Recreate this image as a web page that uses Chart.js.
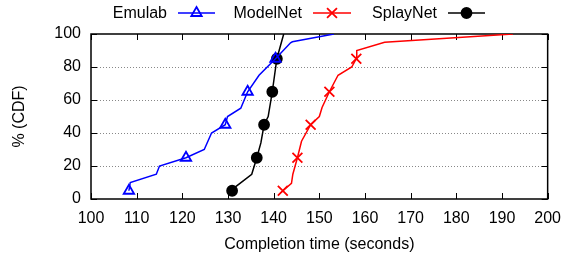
<!DOCTYPE html>
<html>
<head>
<meta charset="utf-8">
<script src="https://cdn.jsdelivr.net/npm/chart.js@4.4.0/dist/chart.umd.min.js"></script>
<style>
html,body{margin:0;padding:0;background:#fff;}
#wrap{width:571px;height:256px;position:relative;}
</style>
</head>
<body>
<div id="wrap"><canvas id="c" width="571" height="256"></canvas></div>
<script>
// ---- data ----
const emulabTime = [108.3, 108.6, 114.3, 115.0, 120.8, 124.8, 126.4, 129.4, 129.9, 132.8, 134.3, 136.8, 140.4, 143.7, 144.1, 153.2];
const emulabCdf  = [5, 10, 15, 20, 25, 30, 40, 45, 50, 55, 65, 75, 85, 94.7, 95.3, 100];
const modelTime  = [142.0, 143.9, 144.2, 145.2, 146.1, 148.1, 150.0, 150.6, 152.2, 154.1, 157.1, 158.1, 158.2, 164.3, 192.4];
const modelCdf   = [5, 9.5, 15, 25, 35, 45, 50, 55.5, 65, 75, 80, 85, 90, 95, 100];
const splayTime  = [130.9, 131.7, 135.2, 136.3, 137.2, 137.9, 138.8, 139.7, 140.7, 142.2];
const splayCdf   = [5, 7.5, 15, 25, 34, 45, 50, 65, 85, 100];
const markerCdf  = [5, 25, 45, 65, 85];
const seriesNames = ['Emulab', 'ModelNet', 'SplayNet'];
const xTicks = [100, 110, 120, 130, 140, 150, 160, 170, 180, 190, 200];
const yTicks = [0, 20, 40, 60, 80, 100];

const FONT = '"Liberation Sans", Arial, Helvetica, sans-serif';
const toXY = (xs, ys) => xs.map((x, i) => ({x: x, y: ys[i]}));

function ds(label, xs, ys, color, style, radius, fill) {
  return {
    label: label,
    data: toXY(xs, ys),
    borderColor: color,
    borderWidth: 1.5,
    pointStyle: style,
    pointBorderColor: color,
    pointBackgroundColor: fill ? color : 'rgba(0,0,0,0)',
    pointBorderWidth: 1.8,
    markerRadius: radius,
    pointRadius: ctx => (ctx.raw && markerCdf.includes(ctx.raw.y)) ? radius : 0,
    pointHoverRadius: 0,
    tension: 0,
    fill: false
  };
}

const datasets = [
  ds(seriesNames[0], emulabTime, emulabCdf, '#0000ff', 'triangle', 6, false),
  ds(seriesNames[1], modelTime, modelCdf, '#ff0000', 'crossRot', 7, false),
  ds(seriesNames[2], splayTime, splayCdf, '#000000', 'circle', 5, true)
];

const framePlugin = {
  id: 'frame',
  beforeDatasetsDraw(chart) {
    const {ctx, chartArea: a, scales: {x, y}} = chart;
    ctx.save();
    ctx.strokeStyle = '#888';
    ctx.lineWidth = 1;
    ctx.setLineDash([1, 2]);
    yTicks.forEach(v => {
      if (v === 0 || v === 100) return;
      const py = Math.round(y.getPixelForValue(v)) + 0.5;
      ctx.beginPath(); ctx.moveTo(a.left, py); ctx.lineTo(a.right, py); ctx.stroke();
    });
    ctx.setLineDash([]);
    ctx.strokeStyle = '#000';
    const L = 6;
    xTicks.forEach(v => {
      const px = Math.round(x.getPixelForValue(v)) + 0.5;
      ctx.beginPath();
      ctx.moveTo(px, a.bottom); ctx.lineTo(px, a.bottom - L);
      ctx.moveTo(px, a.top); ctx.lineTo(px, a.top + L);
      ctx.stroke();
    });
    yTicks.forEach(v => {
      const py = Math.round(y.getPixelForValue(v)) + 0.5;
      ctx.beginPath();
      ctx.moveTo(a.left, py); ctx.lineTo(a.left + L, py);
      ctx.moveTo(a.right, py); ctx.lineTo(a.right - L, py);
      ctx.stroke();
    });
    ctx.lineWidth = 1.5;
    ctx.strokeRect(a.left, a.top, a.right - a.left, a.bottom - a.top);
    ctx.restore();
  },
  afterDraw(chart) {
    const ctx = chart.ctx;
    ctx.save();
    ctx.font = '16px ' + FONT;
    ctx.textAlign = 'right';
    ctx.textBaseline = 'middle';
    const items = [
      {textR: 167, x0: 178, x1: 215},
      {textR: 302, x0: 313, x1: 351},
      {textR: 437, x0: 448, x1: 485}
    ];
    const yC = 13;
    items.forEach((it, i) => {
      const d = chart.data.datasets[i];
      ctx.fillStyle = '#000';
      ctx.fillText(d.label, it.textR, yC + 1);
      ctx.strokeStyle = d.borderColor;
      ctx.lineWidth = 1.5;
      ctx.beginPath(); ctx.moveTo(it.x0, yC); ctx.lineTo(it.x1, yC); ctx.stroke();
      ctx.fillStyle = d.pointBackgroundColor;
      ctx.strokeStyle = d.borderColor;
      ctx.lineWidth = 1.8;
      Chart.helpers.drawPoint(ctx, {
        pointStyle: d.pointStyle, radius: d.markerRadius, rotation: 0, borderWidth: 1.8
      }, (it.x0 + it.x1) / 2, yC);
    });
    ctx.restore();
  }
};

new Chart(document.getElementById('c'), {
  type: 'line',
  data: {datasets: datasets},
  options: {
    responsive: false,
    animation: false,
    layout: {padding: {top: 34, right: 21, left: 0, bottom: 0}},
    plugins: {legend: {display: false}, tooltip: {enabled: false}},
    scales: {
      x: {
        type: 'linear', min: 100, max: 200,
        afterFit: s => { s.height = 57; },
        afterBuildTicks: s => { s.ticks = xTicks.map(v => ({value: v})); },
        grid: {display: false, drawTicks: false},
        border: {display: false},
        ticks: {color: '#000', font: {family: FONT, size: 16}, padding: 10, maxRotation: 0, autoSkip: false},
        title: {display: true, text: 'Completion time (seconds)', color: '#000',
                font: {family: FONT, size: 16}, padding: {top: 2, bottom: 2}}
      },
      y: {
        type: 'linear', min: 0, max: 100,
        afterFit: s => { s.width = 91; },
        afterBuildTicks: s => { s.ticks = yTicks.map(v => ({value: v})); },
        grid: {display: false, drawTicks: false},
        border: {display: false},
        ticks: {color: '#000', font: {family: FONT, size: 16}, padding: 10},
        title: {display: true, text: '% (CDF)', color: '#000',
                font: {family: FONT, size: 16}, padding: {top: 10, bottom: 0}}
      }
    }
  },
  plugins: [framePlugin]
});
</script>
</body>
</html>
